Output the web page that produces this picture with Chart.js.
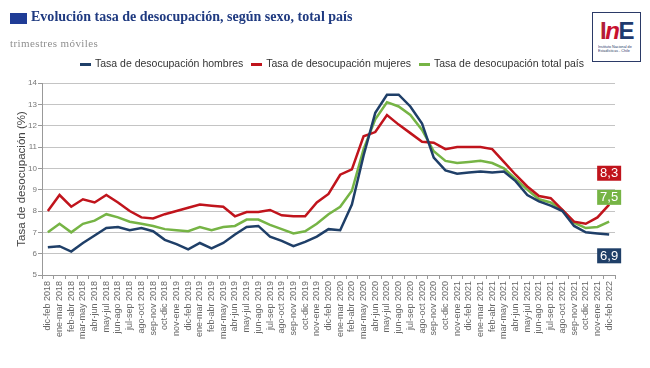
<!DOCTYPE html>
<html lang="es">
<head>
<meta charset="utf-8">
<title>Evolución tasa de desocupación</title>
<script src="https://cdn.jsdelivr.net/npm/chart.js@4/dist/chart.umd.min.js"></script>
<style>
  html, body { margin: 0; padding: 0; background: #fff; }
  #wrap { position: relative; width: 650px; height: 368px; overflow: hidden; font-family: Arial, "Liberation Sans", sans-serif; }
  #chart { position: absolute; left: 0; top: 0; }
  .square { position: absolute; left: 10px; top: 13px; width: 17px; height: 11px; background: #1f3c96; }
  .title { position: absolute; left: 31px; top: 8px; font: bold 15px "Liberation Serif", "DejaVu Serif", serif; color: #1f3a80; white-space: nowrap; transform: scaleX(0.935); transform-origin: 0 0; }
  .subtitle { position: absolute; left: 10px; top: 37px; font: 11px "Liberation Serif", serif; color: #8f8f8f; letter-spacing: 0.4px; }
  .legend { position: absolute; left: 3px; top: 57px; width: 650px; text-align: center; font-size: 10.5px; color: #333; white-space: nowrap; }
  .legend span.mark { display: inline-block; width: 11px; height: 3px; vertical-align: middle; margin: 0 4px 0 8px; }
  .logo { position: absolute; left: 592px; top: 12px; width: 47px; height: 48px; border: 1px solid #2b3a67; background: #fff; }
  .logo .ine { position: absolute; left: 0; top: 6px; width: 47px; text-align: center; font: bold 24px Arial, sans-serif; letter-spacing: -1.5px; line-height: 24px; }
  .logo .small { position: absolute; left: 5px; top: 32px; font-size: 6px; line-height: 6px; color: #2b3a67; transform: scale(0.62); transform-origin: 0 0; white-space: nowrap; }
</style>
</head>
<body>
<div id="wrap">
  <canvas id="chart" width="650" height="368"></canvas>
  <div class="square"></div>
  <div class="title">Evolución tasa de desocupación, según sexo, total país</div>
  <div class="subtitle">trimestres móviles</div>
  <div class="legend" id="legend"></div>
  <div class="logo">
    <div class="ine"><span style="color:#b01f3a">I</span><span style="color:#c8102e;font-style:italic">n</span><span style="color:#1f3a6e">E</span></div>
    <div class="small">Instituto Nacional de<br>Estadísticas - Chile</div>
  </div>
</div>
<script>
  // trimestres móviles, dic-feb 2018 .. dic-feb 2022
  const periods = [
    'dic-feb 2018', 'ene-mar 2018', 'feb-abr 2018', 'mar-may 2018', 'abr-jun 2018', 'may-jul 2018',
    'jun-ago 2018', 'jul-sep 2018', 'ago-oct 2018', 'sep-nov 2018', 'oct-dic 2018', 'nov-ene 2019',
    'dic-feb 2019', 'ene-mar 2019', 'feb-abr 2019', 'mar-may 2019', 'abr-jun 2019', 'may-jul 2019',
    'jun-ago 2019', 'jul-sep 2019', 'ago-oct 2019', 'sep-nov 2019', 'oct-dic 2019', 'nov-ene 2019',
    'dic-feb 2020', 'ene-mar 2020', 'feb-abr 2020', 'mar-may 2020', 'abr-jun 2020', 'may-jul 2020',
    'jun-ago 2020', 'jul-sep 2020', 'ago-oct 2020', 'sep-nov 2020', 'oct-dic 2020', 'nov-ene 2021',
    'dic-feb 2021', 'ene-mar 2021', 'feb-abr 2021', 'mar-may 2021', 'abr-jun 2021', 'may-jul 2021',
    'jun-ago 2021', 'jul-sep 2021', 'ago-oct 2021', 'sep-nov 2021', 'oct-dic 2021', 'nov-ene 2021',
    'dic-feb 2022'
  ];

  const hombres = [
    6.3, 6.35, 6.1, 6.5, 6.85, 7.2, 7.25, 7.1, 7.2, 7.05,
    6.65, 6.45, 6.2, 6.5, 6.25, 6.5, 6.9, 7.25, 7.3, 6.8,
    6.6, 6.35, 6.55, 6.8, 7.15, 7.1, 8.3, 10.6, 12.6, 13.45,
    13.45, 12.9, 12.1, 10.5, 9.9, 9.75, 9.8, 9.85, 9.8, 9.85,
    9.4, 8.75, 8.45, 8.25, 8.0, 7.3, 7.0, 6.95, 6.9
  ];

  const mujeres = [
    8.0, 8.75, 8.2, 8.55, 8.4, 8.75, 8.4, 8.0, 7.7, 7.65,
    7.85, 8.0, 8.15, 8.3, 8.25, 8.2, 7.75, 7.95, 7.95, 8.05,
    7.8, 7.75, 7.75, 8.4, 8.8, 9.7, 9.95, 11.5, 11.7, 12.5,
    12.05, 11.65, 11.25, 11.2, 10.9, 11.0, 11.0, 11.0, 10.9, 10.3,
    9.7, 9.15, 8.7, 8.6, 8.05, 7.5, 7.4, 7.7, 8.3
  ];

  const total = [
    7.0, 7.4, 7.0, 7.4, 7.55, 7.85, 7.7, 7.5, 7.4, 7.3,
    7.15, 7.1, 7.05, 7.25, 7.1, 7.25, 7.3, 7.6, 7.6, 7.35,
    7.15, 6.95, 7.05, 7.4, 7.85, 8.2, 8.95, 10.9, 12.3, 13.1,
    12.9, 12.5, 11.8, 10.8, 10.35, 10.25, 10.3, 10.35, 10.25, 10.0,
    9.5, 9.0, 8.55, 8.4, 8.05, 7.45, 7.2, 7.25, 7.5
  ];

  const yTicks = [5, 6, 7, 8, 9, 10, 11, 12, 13, 14];

  const series = [
    { label: 'Tasa de desocupación hombres', data: hombres, color: '#1f3f68', shift: -1.0 },
    { label: 'Tasa de desocupación mujeres', data: mujeres, color: '#c0141c', shift: 1.47 },
    { label: 'Tasa de desocupación total país', data: total, color: '#76b445', shift: 1.14 }
  ];

  // html legend
  const legendEl = document.getElementById('legend');
  series.forEach(s => {
    const m = document.createElement('span');
    m.className = 'mark';
    m.style.background = s.color;
    legendEl.appendChild(m);
    legendEl.appendChild(document.createTextNode(s.label));
  });

  // boxed value on the last point of each line
  const endLabels = {
    id: 'endLabels',
    afterDatasetsDraw(chart) {
      const ctx = chart.ctx;
      const yScale = chart.scales.y;
      ctx.save();
      chart.data.datasets.forEach((ds, i) => {
        const meta = chart.getDatasetMeta(i);
        const last = ds.data.length - 1;
        const x = meta.data[last].x;
        const y = yScale.getPixelForValue(ds.data[last] + series[i].shift);
        ctx.fillStyle = ds.borderColor;
        ctx.fillRect(x - 12, y - 7.5, 24, 15);
        ctx.fillStyle = '#fff';
        ctx.font = '13px Arial';
        ctx.textAlign = 'center';
        ctx.textBaseline = 'middle';
        ctx.fillText(ds.data[last].toFixed(1).replace('.', ','), x, y + 0.5);
      });
      ctx.restore();
    }
  };

  new Chart(document.getElementById('chart'), {
    type: 'line',
    data: {
      labels: periods,
      datasets: series.map(s => ({
        label: s.label,
        data: s.data,
        borderColor: s.color,
        backgroundColor: s.color,
        borderWidth: 2.5,
        pointRadius: 0,
        tension: 0,
        fill: false
      }))
    },
    options: {
      responsive: false,
      animation: false,
      layout: { padding: { top: 83, right: 35, bottom: 0, left: 0 } },
      plugins: {
        legend: { display: false },
        tooltip: { enabled: false }
      },
      scales: {
        x: {
          offset: true,
          afterFit(scale) { scale.height = 93; },
          grid: { drawOnChartArea: false, tickLength: 4, tickColor: '#999', offset: true },
          border: { color: '#999' },
          ticks: {
            autoSkip: false, maxRotation: 90, minRotation: 90, padding: 2,
            font: { size: 9, family: 'Arial' }, color: '#666'
          }
        },
        y: {
          min: 5, max: 14,
          afterFit(scale) { scale.width = 42; },
          afterBuildTicks(scale) { scale.ticks = yTicks.map(v => ({ value: v })); },
          grid: { color: '#c4c4c4', borderDash: [6, 4], tickLength: 4, tickColor: '#999', tickBorderDash: [] },
          border: { color: '#999' },
          ticks: { padding: 1, font: { size: 8, family: 'Arial' }, color: '#777' },
          title: {
            display: true, text: 'Tasa de desocupación (%)',
            font: { size: 11.5, family: 'Arial' }, color: '#444',
            padding: { top: 15, bottom: 0 }
          }
        }
      }
    },
    plugins: [endLabels]
  });
</script>
</body>
</html>
